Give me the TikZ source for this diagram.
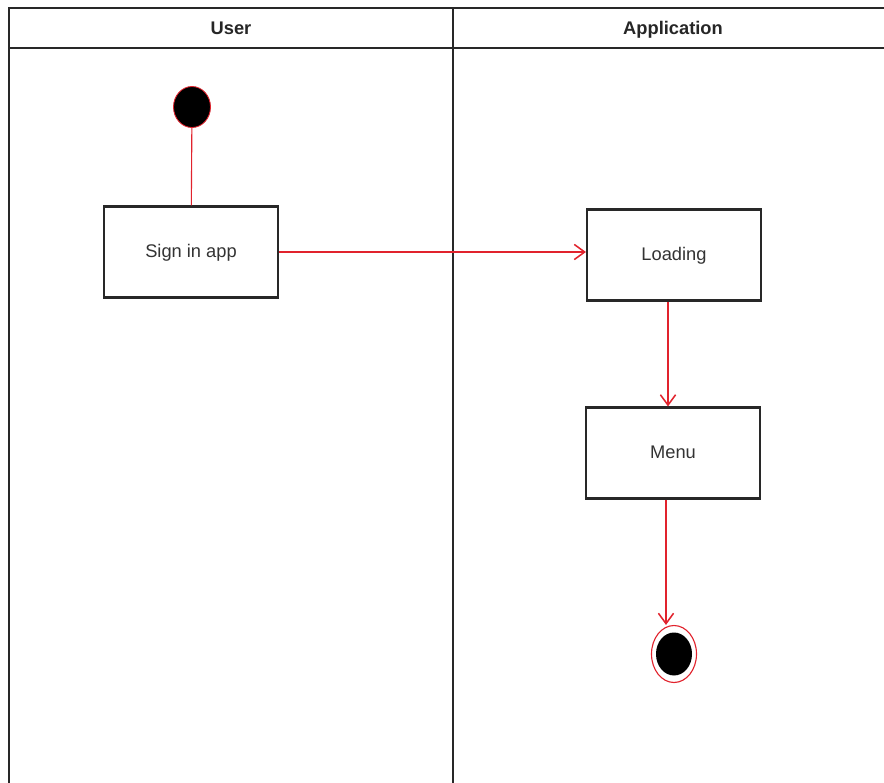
\documentclass[tikz,border=0pt]{standalone}
\usepackage{fontspec}
\setmainfont{Liberation Sans}
\usetikzlibrary{arrows.meta,shapes.geometric}
\definecolor{flowred}{RGB}{225,35,45}
\definecolor{lanegray}{RGB}{40,40,40}
\begin{document}
\begin{tikzpicture}[x=0.025cm,y=-0.025cm,
    act/.style={draw=lanegray,line width=1.5pt,minimum width=174*0.025cm,minimum height=91*0.025cm,font=\fontsize{13}{15}\selectfont,text=black!80,text height=1.6ex,text depth=0.2ex},
    lane/.style={draw=lanegray,line width=1.4pt},
    flow/.style={draw=flowred,line width=0.8pt,-{Straight Barb[length=2.6mm,width=3.8mm,line width=1.1pt]}},
    head/.style={font=\fontsize{13}{15}\selectfont\bfseries,text=black!85,text height=1.6ex,text depth=0.45ex}]
            \useasboundingbox (0,0) rectangle (884,783);

            % swimlanes
            \draw[lane] (9,783) -- (9,8) -- (884,8);
            \draw[lane] (9,48) -- (884,48);
            \draw[lane] (453,8) -- (453,783);
            \node[head] (user) at (231,30) {User};
            \node[head] (app) at (673,30) {Application};

            % activities
            \node[draw=flowred,fill=black,ellipse,minimum width=37*0.025cm,minimum height=41*0.025cm,inner sep=0pt,line width=0.6pt] (start) at (192,107) {};
            \node[act] (signin) at (191,252) {Sign in app};
            \node[act] (loading) at (674,255) {Loading};
            \node[act] (menu) at (673,453) {Menu};
            \node[draw=flowred,ellipse,minimum width=45*0.025cm,minimum height=57*0.025cm,inner sep=0pt,line width=0.8pt] (stop) at (674,654) {};
            \node[fill=black,ellipse,minimum width=36*0.025cm,minimum height=43*0.025cm,inner sep=0pt] (stopdot) at (stop) {};

            \draw[draw=flowred,line width=0.8pt] (start) -- (signin);
            \path
            (signin.east) edge[flow] (signin.east -| loading.west)
            ([xshift=-0.15cm]loading.south) edge[flow] ([xshift=-0.15cm]loading.south |- menu.north)
            ([xshift=-0.175cm]menu.south) edge[flow] ([xshift=-0.175cm]menu.south |- stop.north);
        \end{tikzpicture}
\end{document}
